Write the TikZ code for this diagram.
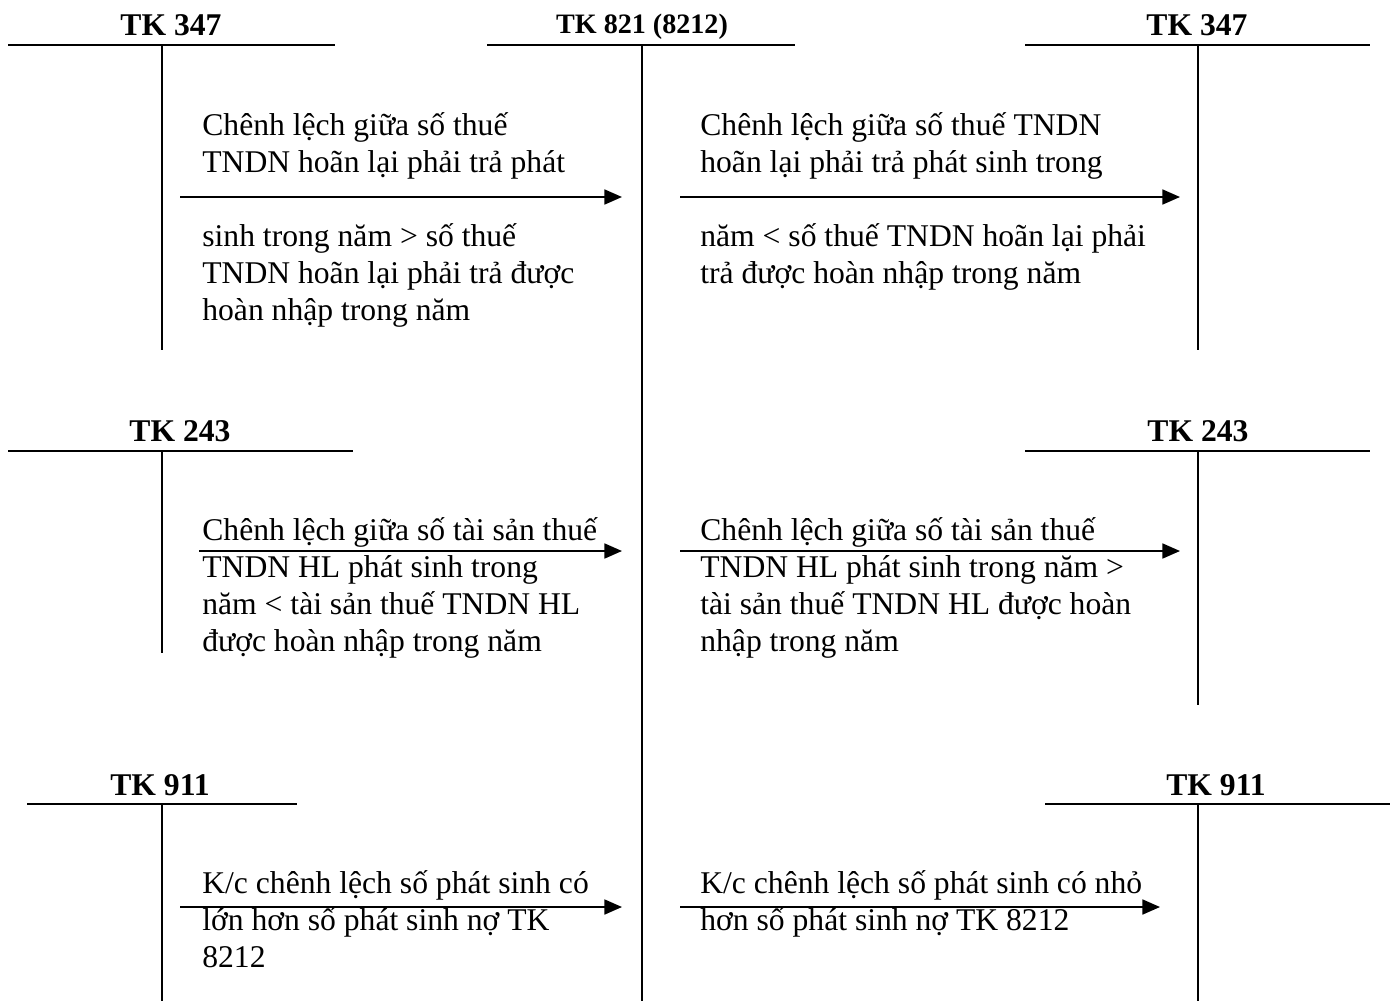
\documentclass[tikz,border=0pt]{standalone}
\usepackage{fontspec}
\setmainfont{Liberation Serif}
\usepackage{tikz}
\usetikzlibrary{arrows.meta, positioning}

\begin{document}
\begin{tikzpicture}[
    x=0.02cm, y=-0.02cm,
    tline/.style={line width=1.1pt},
    acct/.style={anchor=base, inner sep=0pt, font=\fontsize{18}{21}\selectfont\bfseries},
    note/.style={anchor=base west, inner sep=0pt, align=left,
                 font=\fontsize{18}{21}\selectfont},
    arrow/.style={-{Triangle[length=10pt, width=8.5pt]}, line width=1.1pt}
]
\useasboundingbox (0,0) rectangle (1392,1001);

% T-accounts
\coordinate (k1l) at (8,45);    \coordinate (k1r) at (335,45);
\coordinate (k1t) at (162,45);  \coordinate (k1b) at (162,350);
\coordinate (k2l) at (487,45);  \coordinate (k2r) at (795,45);
\coordinate (k2t) at (642,45);  \coordinate (k2b) at (642,1001);
\coordinate (k3l) at (1025,45); \coordinate (k3r) at (1370,45);
\coordinate (k3t) at (1198,45); \coordinate (k3b) at (1198,350);
\coordinate (k4l) at (8,451);   \coordinate (k4r) at (353,451);
\coordinate (k4t) at (162,451); \coordinate (k4b) at (162,653);
\coordinate (k5l) at (1025,451); \coordinate (k5r) at (1370,451);
\coordinate (k5t) at (1198,451); \coordinate (k5b) at (1198,705);
\coordinate (k6l) at (27,804);  \coordinate (k6r) at (297,804);
\coordinate (k6t) at (162,804); \coordinate (k6b) at (162,1001);
\coordinate (k7l) at (1045,804); \coordinate (k7r) at (1390,804);
\coordinate (k7t) at (1198,804); \coordinate (k7b) at (1198,1001);

\foreach \k in {k1,k2,k3,k4,k5,k6,k7} {
  \draw[tline] (\k l) -- (\k r);
  \draw[tline] (\k t) -- (\k b);
}

\node[acct] (tk347a) at (171,35) {TK 347};
\node[acct, font=\fontsize{16}{19}\selectfont\bfseries] (tk821) at (642,33) {TK 821 (8212)};
\node[acct] (tk347b) at (1197,35) {TK 347};
\node[acct] (tk243a) at (180,441) {TK 243};
\node[acct] (tk243b) at (1198,441) {TK 243};
\node[acct] (tk911a) at (160,795) {TK 911};
\node[acct] (tk911b) at (1216,795) {TK 911};

% arrows
\coordinate (a1s) at (180,197);  \coordinate (a1e) at (622,197);
\coordinate (a2s) at (680,197);  \coordinate (a2e) at (1180,197);
\coordinate (a3s) at (199,551);  \coordinate (a3e) at (622,551);
\coordinate (a4s) at (680,551);  \coordinate (a4e) at (1180,551);
\coordinate (a5s) at (180,907);  \coordinate (a5e) at (622,907);
\coordinate (a6s) at (680,907);  \coordinate (a6e) at (1160,907);

\draw[arrow] (a1s) -- (a1e);
\draw[arrow] (a2s) -- (a2e);
\draw[arrow] (a3s) -- (a3e);
\draw[arrow] (a4s) -- (a4e);
\draw[arrow] (a5s) -- (a5e);
\draw[arrow] (a6s) -- (a6e);

% texts (anchored at the baseline of the last line)
\node[note] (n1a) at (202,172) {Chênh lệch giữa số thuế\\TNDN hoãn lại phải trả phát};
\node[note] (n1b) at (202,320) {sinh trong năm > số thuế\\TNDN hoãn lại phải trả được\\hoàn nhập trong năm};
\node[note] (n2a) at (700,172) {Chênh lệch giữa số thuế TNDN\\hoãn lại phải trả phát sinh trong};
\node[note] (n2b) at (700,283) {năm < số thuế TNDN hoãn lại phải\\trả được hoàn nhập trong năm};
\node[note] (n3) at (202,651) {Chênh lệch giữa số tài sản thuế\\TNDN HL phát sinh trong\\năm < tài sản thuế TNDN HL\\được hoàn nhập trong năm};
\node[note] (n4) at (700,651) {Chênh lệch giữa số tài sản thuế\\TNDN HL phát sinh trong năm >\\tài sản thuế TNDN HL được hoàn\\nhập trong năm};
\node[note] (n5) at (202,967) {K/c chênh lệch số phát sinh có\\lớn hơn số phát sinh nợ TK\\8212};
\node[note] (n6) at (700,930) {K/c chênh lệch số phát sinh có nhỏ\\hơn số phát sinh nợ TK 8212};
\end{tikzpicture}
\end{document}
